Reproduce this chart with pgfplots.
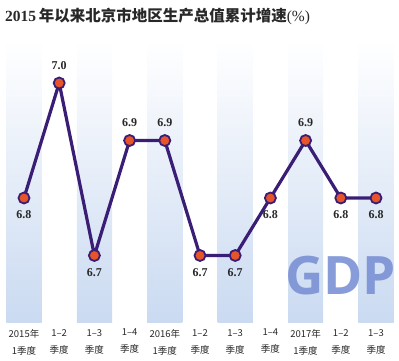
\documentclass[border=0pt]{standalone}
\usepackage{pgfplots}
\pgfplotsset{compat=1.18}
\usepackage{fontspec}
\setmainfont{Liberation Serif}
\newfontfamily\cjk{Noto Sans CJK SC}
\newfontfamily\gdpfont{Open Sans}
\definecolor{linec}{RGB}{58,30,118}
\definecolor{markc}{RGB}{232,84,42}
\definecolor{stripe}{RGB}{202,218,241}
\definecolor{gdpc}{RGB}{122,145,212}
\definecolor{txt}{RGB}{40,40,40}
\begin{document}
\begin{tikzpicture}
\useasboundingbox (0,0) rectangle (399pt,361pt);
\node[anchor=base west, inner sep=0pt, text=txt] at (5pt,339pt)
  {\fontsize{15.5}{18}\selectfont\bfseries 2015\,{\cjk\bfseries 年以来北京市地区生产总值累计增速}{\mdseries(\%)}};
\begin{axis}[
  at={(6.4pt,38pt)}, anchor=south west,
  scale only axis, width=387.2pt, height=283pt,
  xmin=-0.5, xmax=10.5, ymin=6.5826, ymax=7.0748,
  axis line style={draw=none},
  tick style={draw=none},
  ytick=\empty,
  xtick={0,...,10},
  xticklabels={2015年\\1季度, 1–2\\季度, 1–3\\季度, 1–4\\季度, 2016年\\1季度, 1–2\\季度, 1–3\\季度, 1–4\\季度, 2017年\\1季度, 1–2\\季度, 1–3\\季度},
  xticklabel style={align=center, font=\cjk\fontsize{9.5}{17}\selectfont, text=txt, inner sep=0pt, anchor=north, yshift=-6pt},
  /pgf/number format/assume math mode=true,
  clip=false,
]
\pgfplotsinvokeforeach{0,2,4,6,8,10}{
  \shade[top color=white, bottom color=stripe] (axis cs:#1-0.5,6.5826) rectangle (axis cs:#1+0.5,7.0748);
}
\node[text=gdpc, opacity=0.9, inner sep=0pt, anchor=base] at (axis cs:9.0,6.5826) [yshift=28pt] {\gdpfont\bfseries\fontsize{53}{60}\selectfont GDP};
\addplot[line width=3.2pt, color=linec, mark=*, mark options={fill=markc, draw=linec, line width=1.8pt}, mark size=5.5pt]
  coordinates {(0,6.8) (1,7.0) (2,6.7) (3,6.9) (4,6.9) (5,6.7) (6,6.7) (7,6.8) (8,6.9) (9,6.8) (10,6.8)};
\addplot[draw=none, mark=none, nodes near coords={\pgfmathprintnumber[fixed,fixed zerofill,precision=1]{\pgfplotspointmeta}},
  every node near coord/.style={anchor=base, inner sep=0pt, yshift=14pt, font=\bfseries\fontsize{12}{14}\selectfont, text=txt}]
  coordinates {(1,7.0) (3,6.9) (4,6.9) (8,6.9)};
\addplot[draw=none, mark=none, nodes near coords={\pgfmathprintnumber[fixed,fixed zerofill,precision=1]{\pgfplotspointmeta}},
  every node near coord/.style={anchor=base, inner sep=0pt, yshift=-21pt, font=\bfseries\fontsize{12}{14}\selectfont, text=txt}]
  coordinates {(0,6.8) (2,6.7) (5,6.7) (6,6.7) (7,6.8) (9,6.8) (10,6.8)};
\end{axis}
\end{tikzpicture}
\end{document}
